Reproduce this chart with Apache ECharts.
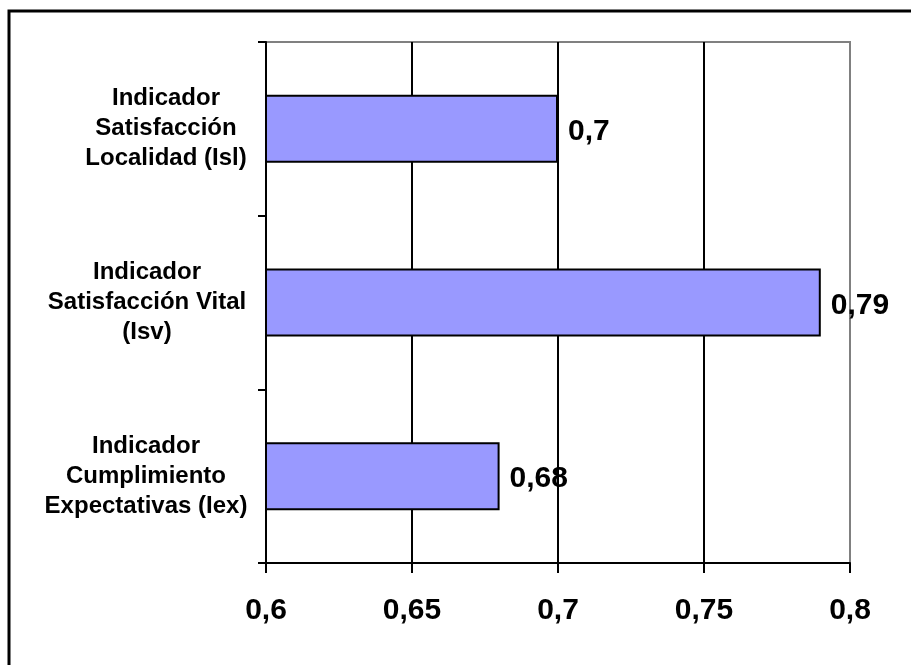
<!DOCTYPE html>
<html>
<head>
<meta charset="utf-8">
<script src="https://cdn.jsdelivr.net/npm/echarts@6/dist/echarts.min.js"></script>
<style>html,body{margin:0;padding:0;background:#fff;}#c{width:911px;height:665px;}</style>
</head>
<body>
<div id="c"></div>
<script>
const categories = [
  'Indicador\nCumplimiento\nExpectativas (Iex)',
  'Indicador\nSatisfacción Vital\n(Isv)',
  'Indicador\nSatisfacción\nLocalidad (Isl)'
];
const values = [0.68, 0.79, 0.7];
const valueLabels = ['0,68', '0,79', '0,7'];
const xTickLabels = ['0,6', '0,65', '0,7', '0,75', '0,8'];

const FONT = '"Liberation Sans", Arial, sans-serif';
// Excel-style: label block right-aligned, lines centred inside the block
const labelPads = [[6, 40, 0, 0], [6, 38, 0, 0], [6, 0, 0, 0]];
const chart = echarts.init(document.getElementById('c'), null, {renderer: 'canvas'});
chart.setOption({
  backgroundColor: '#fff',
  animation: false,
  graphic: [{
    type: 'rect',
    shape: {x: 9, y: 11, width: 1000, height: 1000},
    style: {fill: 'none', stroke: '#000', lineWidth: 3},
    silent: true, z: 100
  }],
  grid: {
    left: 266, top: 42, right: 61, bottom: 102,
    outerBoundsMode: 'none', containLabel: false,
    show: true, borderColor: '#808080', borderWidth: 2, backgroundColor: '#fff'
  },
  xAxis: {
    type: 'value', min: 0.6, max: 0.8, interval: 0.05,
    axisLine: {show: true, lineStyle: {color: '#000', width: 2}},
    axisTick: {show: true, length: 10, lineStyle: {color: '#000', width: 2}},
    splitLine: {show: true, lineStyle: {color: ['#000', '#000', '#000', '#000', '#808080'], width: 2}},
    axisLabel: {
      margin: 33, fontSize: 30, fontWeight: 'bold', color: '#000', fontFamily: FONT,
      formatter: (v, i) => xTickLabels[i]
    }
  },
  yAxis: {
    type: 'category',
    data: categories.map((c, i) => ({value: c, textStyle: {padding: labelPads[i], align: 'center'}})),
    axisLine: {show: true, lineStyle: {color: '#000', width: 2}},
    axisTick: {show: true, length: 8, lineStyle: {color: '#000', width: 2}},
    splitLine: {show: false},
    axisLabel: {
      align: 'center', margin: 100, fontSize: 24, lineHeight: 30,
      fontWeight: 'bold', color: '#000', fontFamily: FONT,
      padding: [6, 0, 0, 0]
    }
  },
  series: [{
    type: 'bar', data: values, barWidth: 68,
    itemStyle: {color: '#9999ff', borderColor: '#000', borderWidth: 2},
    label: {
      show: true, position: 'right', distance: 10, offset: [0, 3],
      fontSize: 30, fontWeight: 'bold', color: '#000', fontFamily: FONT,
      formatter: p => valueLabels[p.dataIndex]
    }
  }]
});
</script>
</body>
</html>
